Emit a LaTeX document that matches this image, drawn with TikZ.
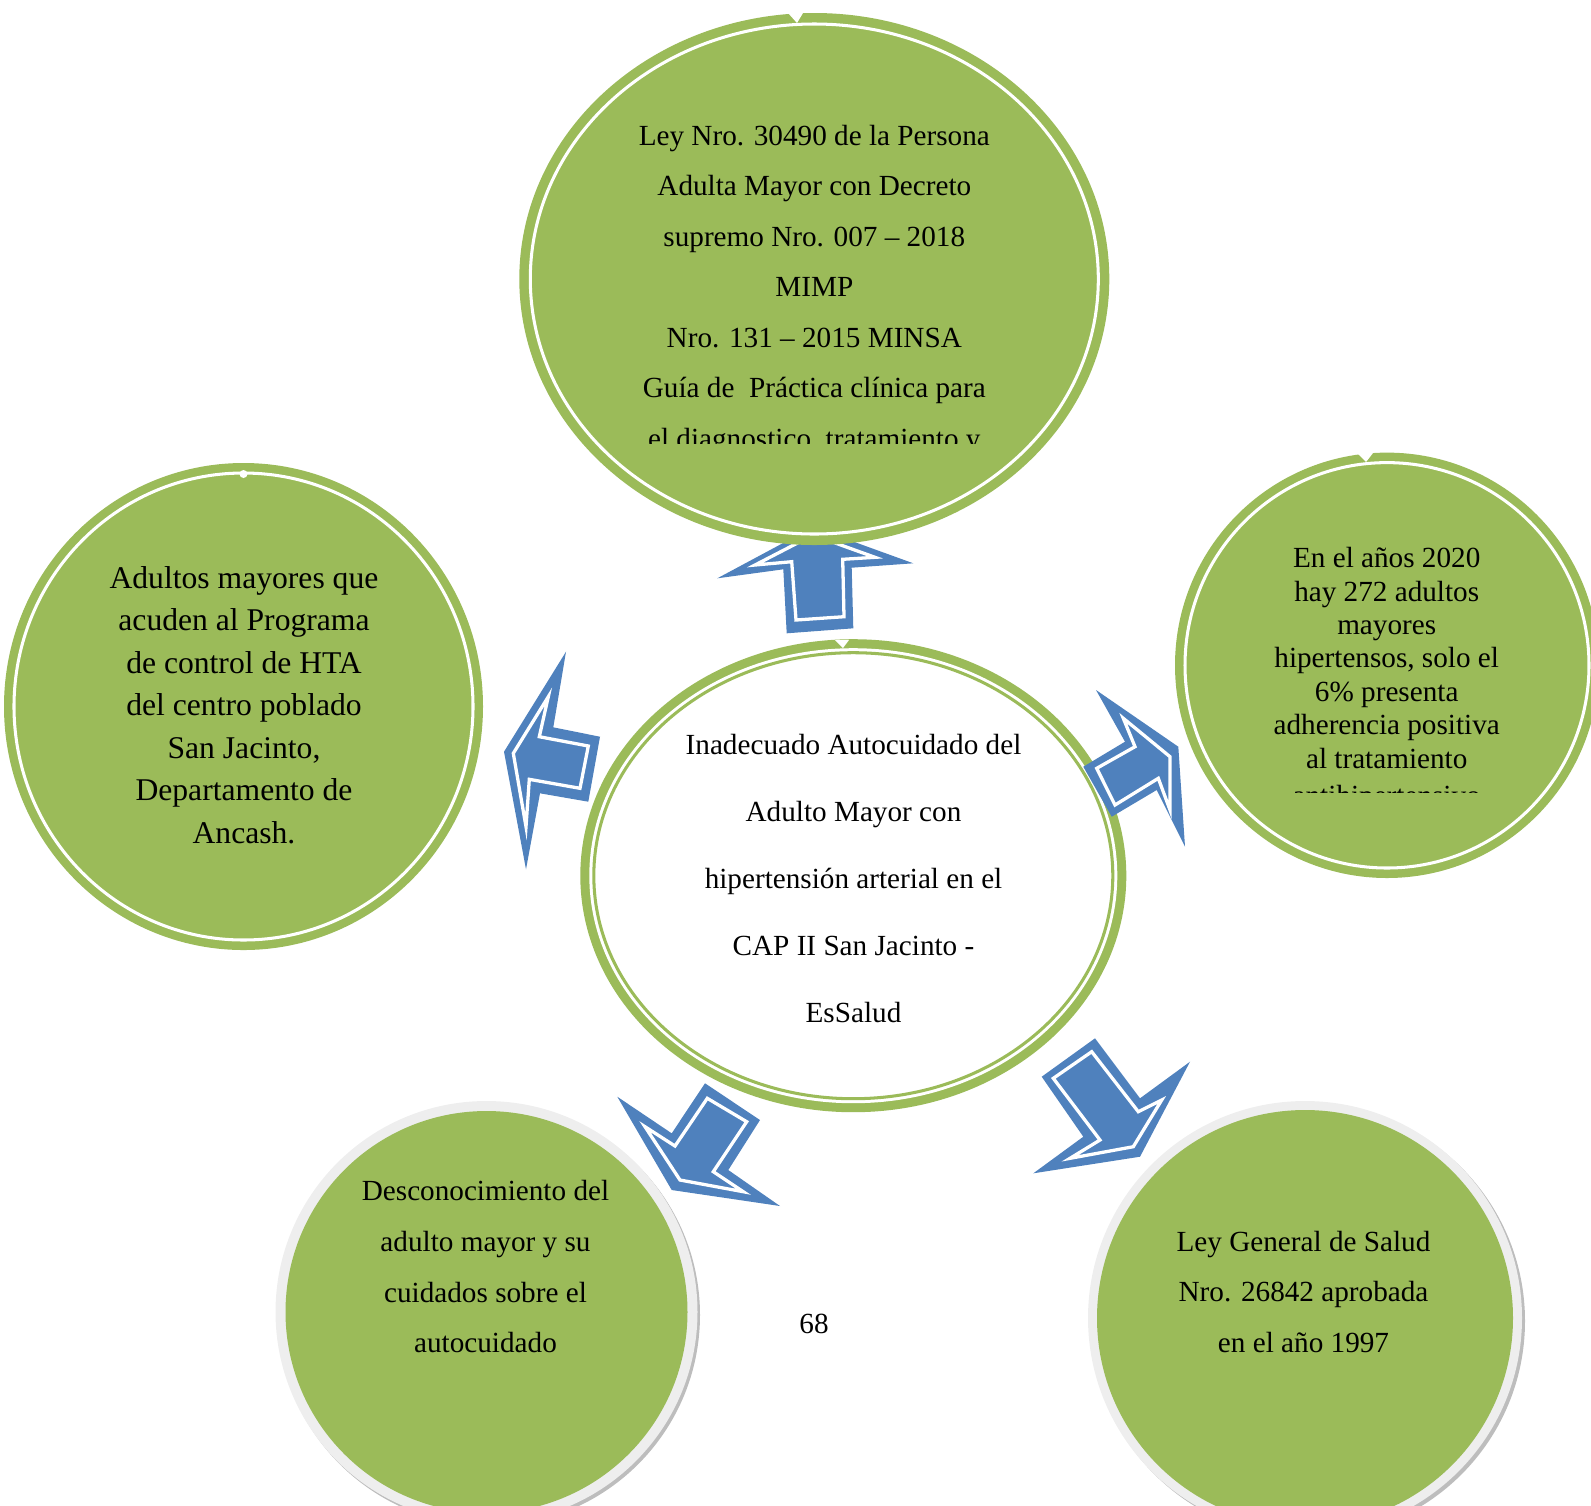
\documentclass[tikz,border=0pt]{standalone}
\usepackage{fontspec}
\setmainfont{Liberation Serif}
\usetikzlibrary{shapes.geometric}
\definecolor{cgreen}{HTML}{9BBB59}
\definecolor{cblue}{HTML}{4F81BD}
\definecolor{cring}{HTML}{EEEEEE}
\definecolor{cshadow}{HTML}{BDBDBD}
\def\px{0.411pt}
\newcommand\putlines[6]{%
  \foreach \tline [count=\i] in {#6}{\node[txt,#2] (#1\i) at (#3,{#4+#5*(\i-1)}) {\tline};}}
\begin{document}
\begin{tikzpicture}[x=0.411pt,y=-0.411pt,
  bubble/.style={ellipse, inner sep=0pt, outer sep=0pt, fill=cgreen, draw=none},
  wline/.style={draw=white, line width=1.25pt},
  txt/.style={inner sep=0pt, anchor=base, font=\fontsize{12pt}{14pt}\selectfont},
  bigtxt/.style={font=\fontsize{13pt}{15pt}\selectfont},
  arrout/.style={fill=cblue, draw=none},
  arrin/.style={fill=cblue, draw=white, line width=1.35pt, line join=miter},
  notch/.style={fill=white, draw=none}]
\useasboundingbox (0,0) rectangle (1591,1505);
\clip (0,0) rectangle (1591,1505);

% ---------- central circle ----------
\node[bubble, minimum width=546*\px, minimum height=473*\px] (ctr) at (853.3,875.7) {};
\fill[white] (ctr.center) ellipse [x radius=264, y radius=227.5];
\draw[cgreen, line width=1.25pt] (ctr.center) ellipse [x radius=259.5, y radius=223];
\fill[notch] (835,640) -- (849,640) -- (843,648) -- cycle;

% ---------- block arrows ----------
% up
\fill[arrout] (813,527) -- (913.3,563.3) -- (851.7,567.7) -- (853.3,628.3) -- (786.7,633.3) -- (783.3,569.3) -- (717.3,578.3) -- cycle;
\filldraw[arrin] (813,535) -- (875,557.3) -- (842.7,559.3) -- (844,616.7) -- (796,620) -- (791.7,561.7) -- (755,565) -- cycle;
% left
\fill[arrout] (566,651.7) -- (504,751.7) -- (526,869.3) -- (540,793.3) -- (588.3,801.7) -- (600,736.7) -- (553.3,727.3) -- cycle;
\filldraw[arrin] (548.3,696.7) -- (513.3,753.3) -- (526,826.7) -- (529.3,779.3) -- (580,788.3) -- (588.3,746) -- (539.3,736.7) -- cycle;
% right
\fill[arrout] (1096,690) -- (1178.3,746.7) -- (1185,846.7) -- (1156.7,790) -- (1111.7,816.7) -- (1083.3,766.7) -- (1125,741.7) -- cycle;
\filldraw[arrin] (1123.3,718.3) -- (1170,756.7) -- (1170,810) -- (1158.3,778.3) -- (1115,805) -- (1096.7,768.3) -- (1135,746.7) -- cycle;
% bottom left
\fill[arrout] (617.3,1096.7) -- (671.7,1133.3) -- (705,1083.3) -- (760,1120) -- (728.3,1170) -- (780,1206) -- (671.7,1190) -- cycle;
\filldraw[arrin] (645,1126.7) -- (675,1146) -- (707.3,1098.3) -- (746.7,1121.7) -- (713.3,1171.7) -- (743.3,1191.7) -- (680,1180) -- cycle;
% bottom right
\fill[arrout] (1041.7,1076.7) -- (1095,1038.3) -- (1140,1098.3) -- (1190,1061.7) -- (1140,1156.7) -- (1033.3,1173.3) -- (1083.3,1136.7) -- cycle;
\filldraw[arrin] (1053.3,1078.3) -- (1091.7,1051.7) -- (1138.3,1111.7) -- (1161.7,1100) -- (1133.3,1146.7) -- (1070,1158.3) -- (1100,1140) -- cycle;

% ---------- top circle ----------
\node[bubble, minimum width=590*\px, minimum height=532*\px] (top) at (814.3,279) {};
\draw[wline] (top.center) ellipse [x radius=284, y radius=255];
\fill[notch] (788,13) -- (803,13) -- (797,23) -- cycle;

% ---------- left circle ----------
\node[bubble, minimum width=479*\px, minimum height=487*\px] (lft) at (243.5,706.5) {};
\draw[wline] (lft.center) ellipse [x radius=229.5, y radius=233.5];
\fill[notch] (243.5,474) circle [radius=4];

% ---------- right circle ----------
\node[bubble, minimum width=424*\px, minimum height=425.4*\px] (rgt) at (1387,665.3) {};
\draw[wline] (rgt.center) ellipse [x radius=202, y radius=202.7];
\fill[notch] (1357,453) -- (1373,453) -- (1366,462) -- cycle;

% ---------- bottom circles ----------
\fill[cshadow] (489,1315) circle [radius=211];
\node[ellipse, inner sep=0pt, fill=cring, minimum size=422*\px] (bl) at (486.5,1312) {};
\fill[cgreen] (bl.center) circle [radius=201];
\fill[cshadow] (1308,1321) circle [radius=217];
\node[ellipse, inner sep=0pt, fill=cring, minimum size=434*\px] (br) at (1305,1318) {};
\fill[cgreen] (br.center) circle [radius=208];

% ---------- texts ----------
\putlines{tt}{}{814.3}{145}{50.5}{Ley Nro. 30490 de la Persona, Adulta Mayor con Decreto, supremo Nro. 007 – 2018, MIMP, Nro. 131 – 2015 MINSA, Guía de\ \ Práctica clínica para}
\begin{scope}
  \clip (520,400) rectangle (1110,443.5);
  \node[txt] (tt7) at (814.3,448.5) {el diagnostico, tratamiento y};
\end{scope}

\putlines{ct}{}{853.5}{754}{67}{Inadecuado Autocuidado del, Adulto Mayor con, hipertensión arterial en el, CAP II San Jacinto -, EsSalud}

\putlines{rt}{}{1386.7}{567.7}{33.4}{En el años 2020, hay 272 adultos, mayores, {hipertensos, solo el}, 6\% presenta, adherencia positiva, al tratamiento}
\begin{scope}
  \clip (1180,760) rectangle (1591,792);
  \node[txt] (rt8) at (1386.7,805) {antihipertensivo};
\end{scope}

\putlines{lt}{bigtxt}{244}{588}{42.5}{Adultos mayores que, acuden al Programa, de control de HTA, del centro poblado, {San Jacinto,}, Departamento de, Ancash.}

\putlines{blt}{}{485.5}{1200.7}{50.7}{Desconocimiento del, adulto mayor y su, cuidados sobre el, autocuidado}

\putlines{brt}{}{1303.5}{1251}{50.7}{Ley General de Salud, Nro. 26842 aprobada, en el año 1997}

\node[txt] (pg) at (814,1333.5) {68};
\end{tikzpicture}
\end{document}
